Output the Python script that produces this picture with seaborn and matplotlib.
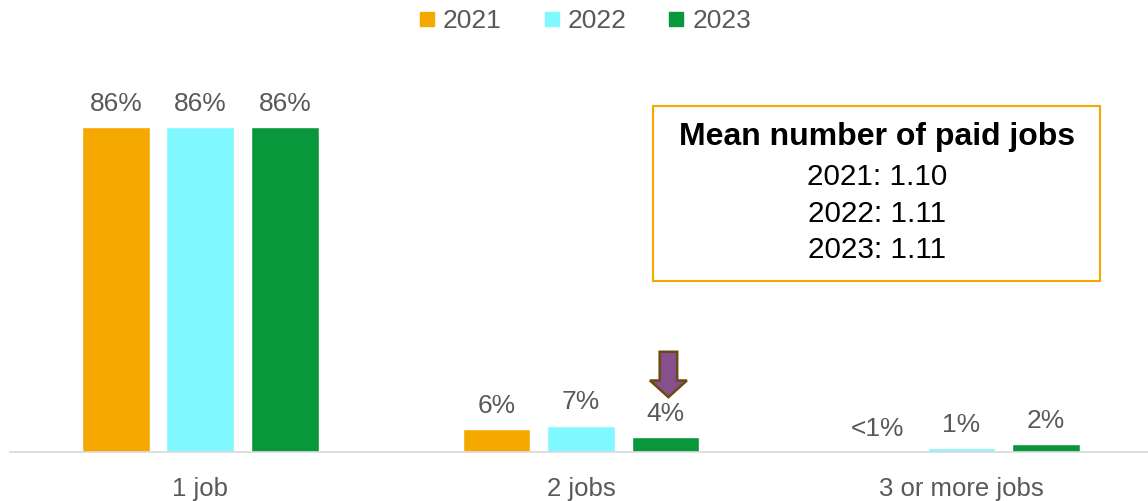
import pandas as pd
import numpy as np
import seaborn as sns
import matplotlib.pyplot as plt
from matplotlib.lines import Line2D
from matplotlib.patches import FancyArrow

# Données
categories = ["1 job", "2 jobs", "3 or more jobs"]
annees = ["2021", "2022", "2023"]
valeurs_2021 = [86, 6, 0]
valeurs_2022 = [86, 7, 1]
valeurs_2023 = [86, 4, 2]
etiquettes_2021 = ["86%", "6%", "<1%"]
etiquettes_2022 = ["86%", "7%", "1%"]
etiquettes_2023 = ["86%", "4%", "2%"]
couleurs = ["#F5A800", "#7FF9FF", "#09973C"]
moyennes = ["2021: 1.10", "2022: 1.11", "2023: 1.11"]

donnees = pd.DataFrame({
    "categorie": categories * 3,
    "annee": [a for a in annees for _ in categories],
    "valeur": valeurs_2021 + valeurs_2022 + valeurs_2023,
})

sns.set_style("white")
plt.rcParams['font.family'] = ['Liberation Sans', 'DejaVu Sans']

fig = plt.figure(figsize=(11.48, 5.01), dpi=100)
ax = fig.add_axes([0.0087, 0.0978, 0.9913, 0.755])

sns.barplot(data=donnees, x="categorie", y="valeur", hue="annee", palette=couleurs,
            width=0.666, gap=0.2, ax=ax, legend=False, saturation=1)

ax.set_xlim(-0.5, 2.49)
ax.set_ylim(0, 100)
ax.set_xlabel("")
ax.set_ylabel("")
ax.set_yticks([])
for cote in ["left", "right", "top"]:
    ax.spines[cote].set_visible(False)
ax.spines["bottom"].set_color("#D9D9D9")
ax.spines["bottom"].set_linewidth(1.2)
ax.tick_params(axis="x", length=0, labelsize=18.5, labelcolor="#595959", pad=18)

# Étiquettes de valeurs au-dessus des barres
etiquettes = [etiquettes_2021, etiquettes_2022, etiquettes_2023]
for conteneur, textes in zip(ax.containers, etiquettes):
    ax.bar_label(conteneur, labels=textes, padding=8, fontsize=19, color="#595959")

# Flèche violette au-dessus de la barre 2023 / 2 jobs
barre = ax.containers[2][1]
cx = barre.get_x() + barre.get_width() / 2 + 0.008
fleche = FancyArrow(cx, 26.5, 0, -12, width=0.046, head_width=0.097,
                    head_length=4.4, length_includes_head=True,
                    facecolor="#86508E", edgecolor="#6B4A12", linewidth=1.8)
ax.add_patch(fleche)

# Encadré des moyennes
fig.patches.append(plt.Rectangle((653 / 1148, 1 - 281 / 501), 447 / 1148, 175 / 501,
                                 transform=fig.transFigure, fill=False,
                                 edgecolor="#F5A800", linewidth=1.5))
fig.text(877 / 1148, 1 - 137 / 501, "Mean number of paid jobs", ha="center", va="center",
         fontsize=23, fontweight="bold", color="black")
for i, ligne in enumerate(moyennes):
    fig.text(877 / 1148, 1 - (177 + 36.5 * i) / 501, ligne, ha="center", va="center",
             fontsize=21.3, color="black")

# Légende en haut
poignees = [Line2D([0], [0], marker="s", linestyle="", markersize=10,
                   markerfacecolor=c, markeredgecolor=c) for c in couleurs]
fig.legend(poignees, annees, loc="center", bbox_to_anchor=(585 / 1148, 1 - 21 / 501),
           ncol=3, frameon=False, fontsize=19, labelcolor="#595959",
           handlelength=0.6, handletextpad=0.3, columnspacing=1.6)

fig.savefig("out.png", dpi=100)
